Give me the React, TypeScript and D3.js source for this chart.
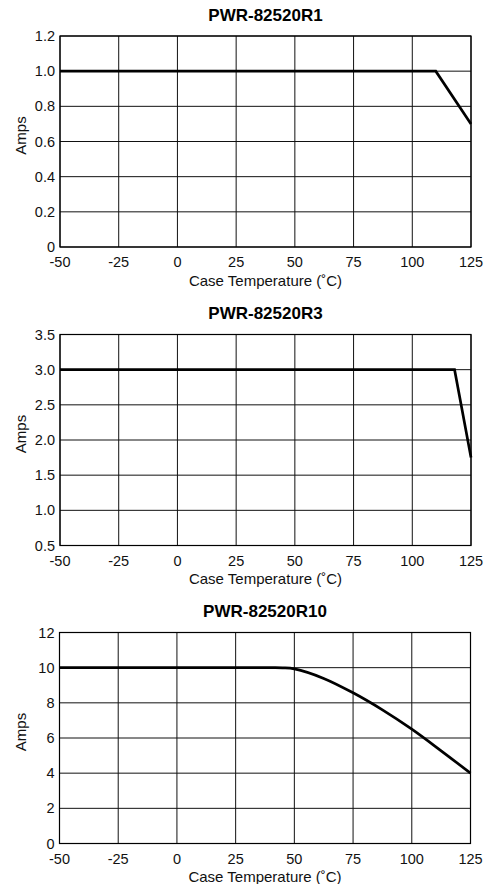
import React, { useEffect, useRef } from 'react';
import * as d3 from 'd3';

// x axis shared by all three panels
const tempTicks = [-50, -25, 0, 25, 50, 75, 100, 125];
const tempLabels = ['-50', '-25', '0', '25', '50', '75', '100', '125'];

// PWR-82520R1
const r1Temp = [-50, 110, 125];
const r1Amps = [1.0, 1.0, 0.7];
const r1Ticks = [0, 0.2, 0.4, 0.6, 0.8, 1.0, 1.2];
const r1Labels = ['0', '0.2', '0.4', '0.6', '0.8', '1.0', '1.2'];

// PWR-82520R3
const r3Temp = [-50, 118, 125];
const r3Amps = [3.0, 3.0, 1.75];
const r3Ticks = [0.5, 1.0, 1.5, 2.0, 2.5, 3.0, 3.5];
const r3Labels = ['0.5', '1.0', '1.5', '2.0', '2.5', '3.0', '3.5'];

// PWR-82520R10
const r10Temp = [-50, 40, 45, 50, 62.5, 75, 87.5, 100, 112.5, 125];
const r10Amps = [10, 10, 9.99, 9.93, 9.39, 8.57, 7.6, 6.5, 5.27, 4];
const r10Ticks = [0, 2, 4, 6, 8, 10, 12];
const r10Labels = ['0', '2', '4', '6', '8', '10', '12'];

interface Panel {
  title: string;
  temp: number[];
  amps: number[];
  ticks: number[];
  labels: string[];
  curved: boolean;
  top: number;
  left: number;
}

const panels: Panel[] = [
  { title: 'PWR-82520R1', temp: r1Temp, amps: r1Amps, ticks: r1Ticks, labels: r1Labels, curved: false, top: 36, left: 60 },
  { title: 'PWR-82520R3', temp: r3Temp, amps: r3Amps, ticks: r3Ticks, labels: r3Labels, curved: false, top: 334.5, left: 60 },
  { title: 'PWR-82520R10', temp: r10Temp, amps: r10Amps, ticks: r10Ticks, labels: r10Labels, curved: true, top: 632.5, left: 59.5 },
];

const WIDTH = 489;
const HEIGHT = 884;
const PLOT_W = 411;
const PLOT_H = 211;
const FONT = 'Liberation Sans, Arial, Helvetica, sans-serif';

export default function App() {
  const svgRef = useRef<SVGSVGElement>(null);

  useEffect(() => {
    if (!svgRef.current) return;
    const svg = d3.select(svgRef.current);
    svg.selectAll('*').remove();

    panels.forEach((p) => {
      const g = svg.append('g').attr('transform', `translate(${p.left},${p.top})`);

      const x = d3.scaleLinear().domain([-50, 125]).range([0, PLOT_W]);
      const y = d3
        .scaleLinear()
        .domain([p.ticks[0], p.ticks[p.ticks.length - 1]])
        .range([PLOT_H, 0]);

      // Title
      g.append('text')
        .attr('x', PLOT_W / 2)
        .attr('y', -15.5)
        .attr('text-anchor', 'middle')
        .attr('font-family', FONT)
        .attr('font-weight', 'bold')
        .attr('font-size', '17px')
        .text(p.title);

      // Grid: horizontal
      g.selectAll('line.hgrid')
        .data(p.ticks)
        .enter()
        .append('line')
        .attr('x1', 0)
        .attr('x2', PLOT_W)
        .attr('y1', (d) => y(d))
        .attr('y2', (d) => y(d))
        .attr('stroke', '#111')
        .attr('stroke-width', 1);

      // Grid: vertical
      g.selectAll('line.vgrid')
        .data(tempTicks)
        .enter()
        .append('line')
        .attr('x1', (d) => x(d))
        .attr('x2', (d) => x(d))
        .attr('y1', 0)
        .attr('y2', PLOT_H)
        .attr('stroke', '#111')
        .attr('stroke-width', 1);

      // Frame
      g.append('rect')
        .attr('x', 0)
        .attr('y', 0)
        .attr('width', PLOT_W)
        .attr('height', PLOT_H)
        .attr('fill', 'none')
        .attr('stroke', '#000')
        .attr('stroke-width', 1.2);

      // Y tick labels
      g.selectAll('text.ytick')
        .data(p.ticks)
        .enter()
        .append('text')
        .attr('x', -5)
        .attr('y', (d) => y(d) + 5)
        .attr('text-anchor', 'end')
        .attr('font-family', FONT)
        .attr('font-size', '14.5px')
        .attr('fill', '#111')
        .text((_, i) => p.labels[i]);

      // X tick labels
      g.selectAll('text.xtick')
        .data(tempTicks)
        .enter()
        .append('text')
        .attr('x', (d) => x(d))
        .attr('y', PLOT_H + 20)
        .attr('text-anchor', 'middle')
        .attr('font-family', FONT)
        .attr('font-size', '14.5px')
        .attr('fill', '#111')
        .text((_, i) => tempLabels[i]);

      // X axis label
      g.append('text')
        .attr('x', PLOT_W / 2)
        .attr('y', PLOT_H + 38.5)
        .attr('text-anchor', 'middle')
        .attr('font-family', FONT)
        .attr('font-size', '15px')
        .attr('fill', '#111')
        .text('Case Temperature (˚C)');

      // Y axis label
      g.append('text')
        .attr('transform', 'rotate(-90)')
        .attr('x', -(PLOT_H / 2 - 6))
        .attr('y', -34)
        .attr('text-anchor', 'middle')
        .attr('font-family', FONT)
        .attr('font-size', '15px')
        .attr('fill', '#111')
        .text('Amps');

      // Derating curve
      const pts = p.temp.map((t, i) => [t, p.amps[i]] as [number, number]);
      const line = d3
        .line<[number, number]>()
        .x((d) => x(d[0]))
        .y((d) => y(d[1]))
        .curve(p.curved ? d3.curveCatmullRom.alpha(0.5) : d3.curveLinear);

      g.append('path')
        .datum(pts)
        .attr('fill', 'none')
        .attr('stroke', '#000')
        .attr('stroke-width', 2.7)
        .attr('stroke-linejoin', 'miter')
        .attr('d', line);
    });
  }, []);

  return (
    <svg
      ref={svgRef}
      width={WIDTH}
      height={HEIGHT}
      style={{ position: 'absolute', left: 0, top: 0, background: '#fff' }}
    />
  );
}
